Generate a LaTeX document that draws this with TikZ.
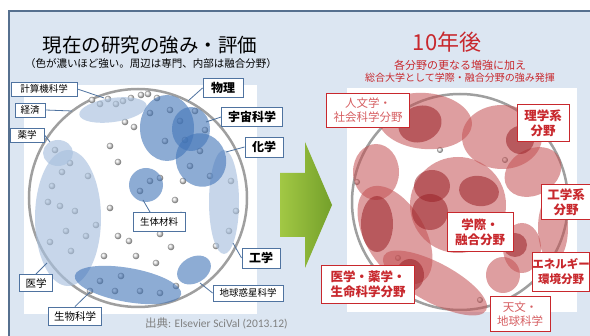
\documentclass[tikz,border=0pt]{standalone}
\usepackage{fontspec}
\setmainfont{Noto Sans CJK JP}
\newfontfamily\latfont{Carlito}
\definecolor{panelfill}{HTML}{DCE6F2}
\definecolor{panelline}{HTML}{56708F}
\definecolor{labblue}{HTML}{4F73A0}
\definecolor{blueblob}{HTML}{4275B8}
\definecolor{lightblob}{HTML}{A9C1DF}
\definecolor{redblob}{HTML}{C45052}
\definecolor{darkred}{HTML}{9A2227}
\definecolor{labred}{HTML}{C8282D}
\definecolor{arrowA}{HTML}{A2C844}
\definecolor{arrowB}{HTML}{74A02A}
\usetikzlibrary{calc}

\begin{document}
\begin{tikzpicture}[x=1pt,y=-1pt,
  blab/.style={draw=labblue,fill=white,line width=0.9pt,inner sep=0pt,font=\fontsize{9.5}{11}\selectfont},
  bbig/.style={blab,font=\fontsize{12}{14}\selectfont\bfseries},
  rlab/.style={draw=labred,fill=white,line width=0.9pt,inner sep=0pt,align=center,text=labred,font=\fontsize{12.5}{15}\selectfont\bfseries},
  rlight/.style={rlab,text=labred!75,font=\fontsize{11.5}{14}\selectfont},
  lead/.style={draw=labblue,line width=0.8pt},
  lblob/.style={fill=lightblob,fill opacity=0.65},
  bblob/.style={fill=blueblob,fill opacity=0.6},
  pblob/.style={fill=redblob,fill opacity=0.55},
  dblob/.style={fill=darkred,fill opacity=0.55},
  ring/.style={draw=gray!75,line width=2.5pt},
  dot/.style={ball color=gray!20}]

\useasboundingbox (0,0) rectangle (590,336);
\clip (0,0) rectangle (590,336);

% panel and chart areas
\fill[white] (0,0) rectangle (590,336);
\draw[fill=panelfill,draw=panelline,line width=1.5pt] (9,11) rectangle (600,346);
\fill[white] (24,85) rectangle (257,314);
\fill[white] (347,88) rectangle (577,312);

% titles
\node (title) at (150,45) {\fontsize{19.5}{22}\selectfont 現在の研究の強み・評価};
\node (note) at (151,64) {\fontsize{10.5}{12}\selectfont （色が濃いほど強い。周辺は専門、内部は融合分野）};
\node[text=labred] (future) at (447,42) {\fontsize{22}{24}\selectfont 10年後};
\node[text=labred,align=center] (aim) at (460,71)
  {\fontsize{11}{15.5}\selectfont 各分野の更なる増強に加え\\総合大学として学際・融合分野の強み発揮};

% present: left circle
\draw[ring] (138,198) circle (109);
\foreach \x/\y in {92/100,100/104,108/99,116/104,123/101,131/98,141/95,148/94,157/98,125/122,
  134/127,110/146,118/162,88/176,70/163,55/150,62/172,52/186,48/202,60/206,75/211,66/231,
  50/242,71/251,86/236,96/225,110/208,104/256,118/236,129/241,145/226,160/234,171/247,
  181/215,175/200,160/178,150/181,140/191,190/166,200/151,210/176,183/181,231/181,236/211,
  229/231,216/246,100/281,115/291,140/291,160/293,176/286,121/276,90/291,195/111,180/121,
  150/113,165/141,136/256,156/263,205/130,170/110,185/140}
  \shade[dot] (\x,\y) circle (3.3);

\fill[lblob,rotate around={8:(113,110)}] (113,110) ellipse [x radius=34,y radius=12];
\fill[lblob] (58,153) ellipse [x radius=15,y radius=13];
\fill[lblob] (68,218) ellipse [x radius=33,y radius=68];
\fill[lblob] (224,202) ellipse [x radius=15,y radius=52];
\fill[bblob] (167,128) ellipse [x radius=27,y radius=33];
\fill[bblob] (191,129) ellipse [x radius=19,y radius=22];
\fill[bblob,rotate around={20:(201,160)}] (201,160) ellipse [x radius=25,y radius=27];
\fill[bblob] (146,185) circle (17);
\fill[bblob,rotate around={30:(194,270)}] (194,270) ellipse [x radius=18,y radius=13];
\fill[bblob,rotate around={-10:(128,285)}] (128,285) ellipse [x radius=54,y radius=17];

\node[blab,minimum width=66,minimum height=14] (cs) at (44,89) {計算機科学};
\node[blab,minimum width=30,minimum height=14] (econ) at (30,110) {経済};
\node[blab,minimum width=34,minimum height=14] (phar) at (27,135) {薬学};
\node[bbig,minimum width=40,minimum height=19] (phys) at (223,88) {物理};
\node[bbig,minimum width=61,minimum height=19] (space) at (252,117) {宇宙科学};
\node[bbig,minimum width=38,minimum height=20] (chem) at (264,147) {化学};
\node[blab,minimum width=52,minimum height=19] (biom) at (159,222) {生体材料};
\node[bbig,minimum width=38,minimum height=20] (eng) at (261,258) {工学};
\node[blab,minimum width=70,minimum height=16] (earth) at (248,293) {地球惑星科学};
\node[blab,minimum width=33,minimum height=17,font=\fontsize{10.5}{12}\selectfont] (med) at (36,283) {医学};
\node[blab,minimum width=53,minimum height=18,font=\fontsize{10.5}{12}\selectfont] (bio) at (75,316) {生物科学};

\coordinate (csend) at (104,98);
\coordinate (econend) at (72,111);
\coordinate (pharend) at (50,142);
\coordinate (physend) at (188,101);
\coordinate (spaceend) at (206,122);
\coordinate (chemend) at (226,152);
\coordinate (biomend) at (143,200);
\coordinate (engend) at (233,243);
\coordinate (earthend) at (200,283);
\coordinate (medend) at (47,263);
\coordinate (bioend) at (90,292);
\draw[lead] (cs.east) -- (csend);
\draw[lead] (econ.east) -- (econend);
\draw[lead] (phar.east) -- (pharend);
\draw[lead] (phys.west) -- (physend);
\draw[lead] (space.west) -- (spaceend);
\draw[lead] (chem.west) -- (chemend);
\draw[lead] ([xshift=-9pt]biom.north) -- (biomend);
\draw[lead] (eng.west) -- (engend);
\draw[lead] (earth.west) -- (earthend);
\draw[lead] (med.north) -- (medend);
\draw[lead] (bio.north) -- (bioend);

\node[text=gray,anchor=west,inner sep=0pt] (src) at (145,323)
  {\fontsize{11.5}{13}\selectfont 出典\latfont: Elsevier SciVal (2013.12)};

% arrow
\shade[left color=arrowA,right color=arrowB] (280,173) -- (305,173) -- (305,142) -- (332,205)
  -- (305,268) -- (305,237) -- (280,237) -- cycle;

% future: right circle
\draw[ring] (460,202) circle (108);
\foreach \x/\y in {468/236,470/244,357/182,440/150,525/118,505/160,560/190,480/300,398/258}
  \shade[dot] (\x,\y) circle (3);

\fill[pblob,rotate around={-5:(425,121)}] (425,121) ellipse [x radius=47,y radius=28];
\fill[pblob] (502,137) ellipse [x radius=40,y radius=32];
\fill[pblob] (376,172) ellipse [x radius=23,y radius=28];
\fill[pblob,rotate around={30:(395,235)}] (395,235) ellipse [x radius=30,y radius=54];
\fill[pblob] (458,205) circle (48);
\fill[pblob,rotate around={-28:(435,283)}] (435,283) ellipse [x radius=58,y radius=20];
\fill[pblob,rotate around={30:(533,172)}] (533,172) ellipse [x radius=30,y radius=23];
\fill[pblob] (522,248) ellipse [x radius=19,y radius=25];
\fill[pblob] (553,228) ellipse [x radius=15,y radius=34];
\fill[pblob] (503,275) ellipse [x radius=17,y radius=18];
\fill[dblob,rotate around={20:(420,124)}] (420,124) ellipse [x radius=22,y radius=18];
\fill[dblob] (520,140) circle (14);
\fill[dblob] (432,186) ellipse [x radius=18,y radius=16];
\fill[dblob,rotate around={-10:(479,191)}] (479,191) ellipse [x radius=20,y radius=15];
\fill[dblob] (430,212) circle (18);
\fill[dblob] (377,224) ellipse [x radius=16,y radius=28];
\fill[dblob] (410,275) ellipse [x radius=14,y radius=16];
\fill[dblob] (515,245) circle (12);

\node[rlight,minimum width=83,minimum height=34] (hum) at (368,110) {人文学・\\社会科学分野};
\node[rlab,minimum width=52,minimum height=37] (sci) at (543,123) {理学系\\分野};
\node[rlab,minimum width=50,minimum height=35] (engr) at (566,202) {工学系\\分野};
\node[rlab,minimum width=66,minimum height=39] (inter) at (480,232) {学際・\\融合分野};
\node[rlab,minimum width=93,minimum height=38] (medr) at (368,284) {医学・薬学・\\生命科学分野};
\node[rlab,minimum width=57,minimum height=39,font=\fontsize{11.5}{15}\selectfont\bfseries] (enr) at (561,272) {エネルギー\\環境分野};
\node[rlight,minimum width=60,minimum height=35] (astro) at (520,314) {天文・\\地球科学};

\end{tikzpicture}
\end{document}
